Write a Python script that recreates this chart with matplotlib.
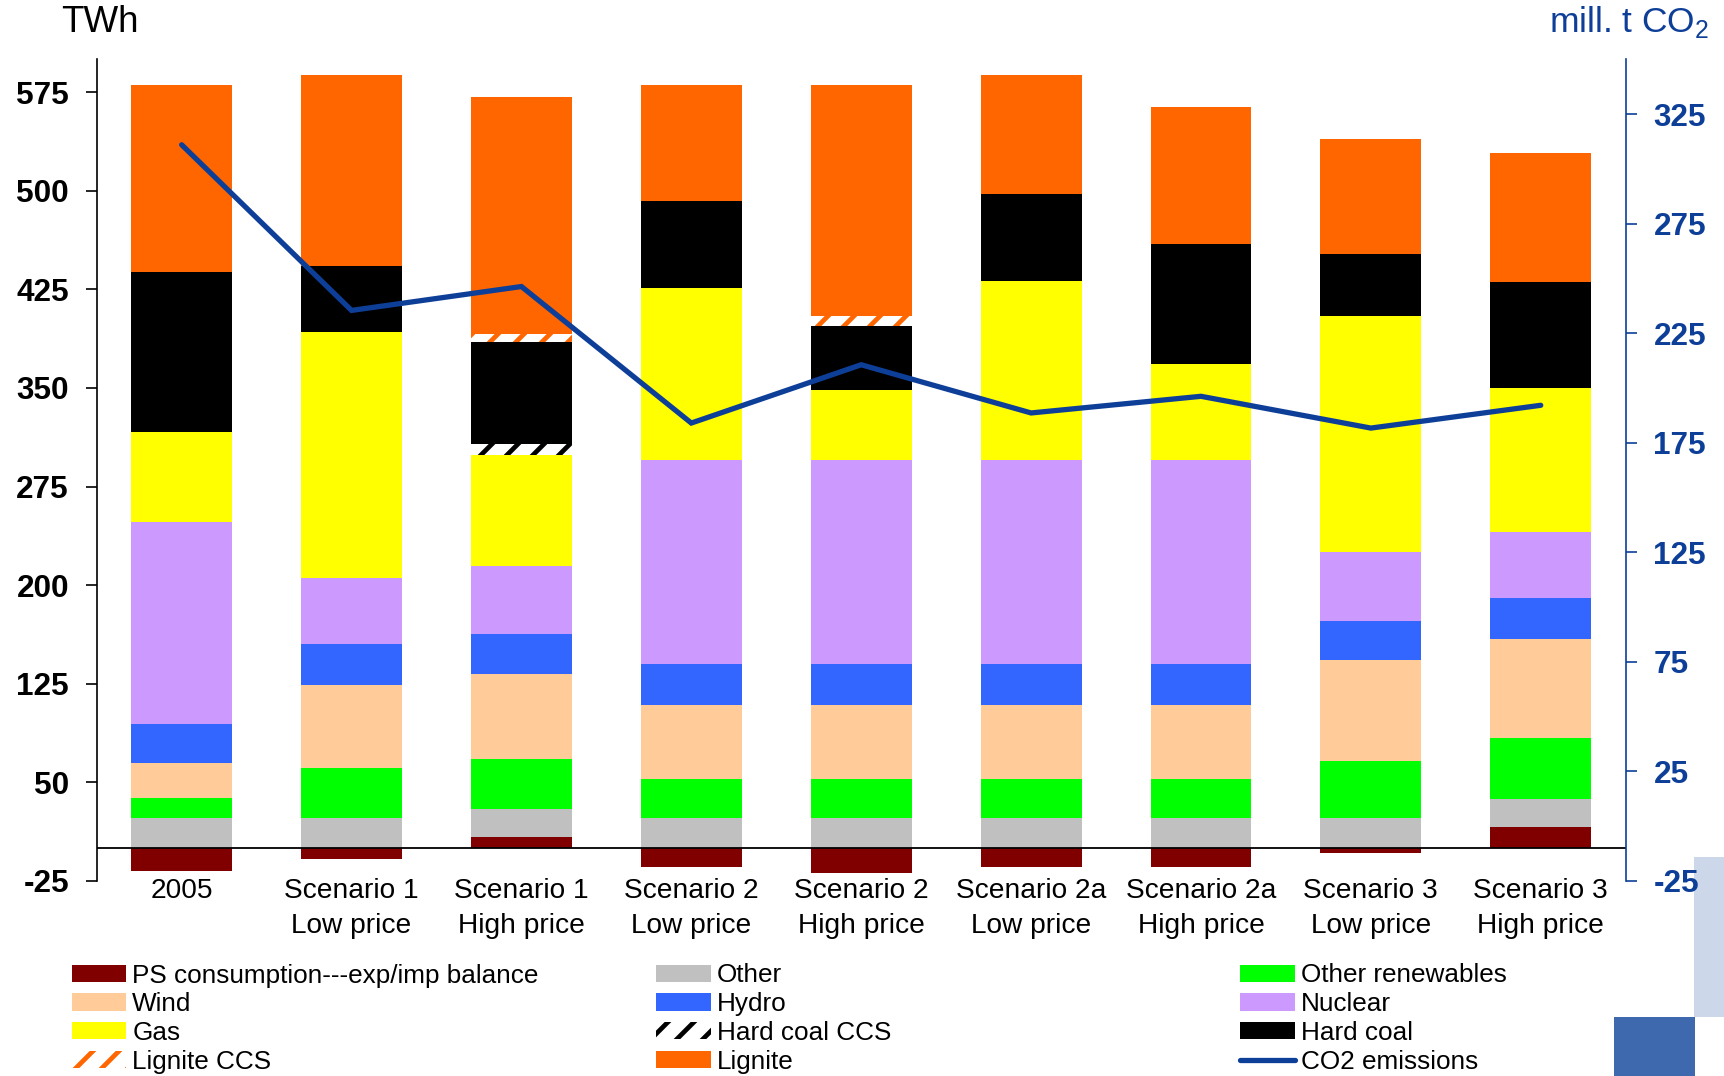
import matplotlib
matplotlib.use("Agg")
import matplotlib.pyplot as plt
import numpy as np
from matplotlib.lines import Line2D
from matplotlib.patches import Rectangle

DPI = 78
K = 100.0 / DPI   # converts point sizes tuned at 100 dpi to this dpi

plt.rcParams['font.family'] = ['Liberation Sans', 'DejaVu Sans']
plt.rcParams['hatch.linewidth'] = 3.4 * K

categories = ["2005", "Scenario 1\nLow price", "Scenario 1\nHigh price",
              "Scenario 2\nLow price", "Scenario 2\nHigh price",
              "Scenario 2a\nLow price", "Scenario 2a\nHigh price",
              "Scenario 3\nLow price", "Scenario 3\nHigh price"]

ps_balance = [-17.3, -7.9, 8.4, -14.2, -18.8, -14.2, -14.2, -3.6, 16.2]
other = [23.0, 23.0, 21.3, 23.0, 23.0, 23.0, 23.0, 23.0, 21.3]
other_ren = [15.3, 38.1, 38.0, 29.5, 29.5, 29.5, 29.5, 43.2, 46.4]
wind = [26.6, 62.9, 64.9, 56.3, 56.3, 56.3, 56.3, 76.8, 75.1]
hydro = [29.7, 31.4, 30.4, 31.4, 31.4, 31.4, 31.4, 29.7, 31.4]
nuclear = [153.6, 50.2, 51.7, 155.2, 155.2, 155.2, 155.2, 52.7, 50.2]
gas = [68.5, 187.2, 84.3, 130.6, 53.0, 135.9, 72.8, 179.3, 109.6]
hard_coal_ccs = [0, 0, 8.3, 0, 0, 0, 0, 0, 0]
hard_coal = [121.7, 49.9, 77.6, 66.2, 48.7, 66.2, 91.5, 47.2, 80.6]
lignite_ccs = [0, 0, 6.1, 0, 7.6, 0, 0, 0, 0]
lignite = [142.0, 145.3, 180.5, 88.2, 175.7, 90.5, 104.0, 87.4, 97.9]
co2 = [311.0, 235.4, 246.3, 184.0, 210.6, 188.6, 196.2, 181.7, 192.1]

left_ticks = [-25, 50, 125, 200, 275, 350, 425, 500, 575]
right_ticks = [-25, 25, 75, 125, 175, 225, 275, 325]

BLUE = "#0E3F98"

fig = plt.figure(figsize=(1724 / DPI, 1076 / DPI), dpi=DPI)
ax = fig.add_axes([0.05609, 0.18123, 0.88689, 0.76366])

x = np.arange(len(categories))
w = 0.594

ps = np.array(ps_balance, dtype=float)
h_ps = ax.bar(x, ps, w, color="#800000", linewidth=0, zorder=2)
bottom = np.where(ps > 0, ps, 0.0)

stack = [
    ("Other", other, dict(color="#C0C0C0")),
    ("Other renewables", other_ren, dict(color="#00FF00")),
    ("Wind", wind, dict(color="#FFCC99")),
    ("Hydro", hydro, dict(color="#3366FF")),
    ("Nuclear", nuclear, dict(color="#CC99FF")),
    ("Gas", gas, dict(color="#FFFF00")),
    ("Hard coal CCS", hard_coal_ccs, dict(facecolor="white", edgecolor="black", hatch="/")),
    ("Hard coal", hard_coal, dict(color="#000000")),
    ("Lignite CCS", lignite_ccs, dict(facecolor="white", edgecolor="#FF6600", hatch="/")),
    ("Lignite", lignite, dict(color="#FF6600")),
]
handles = {"PS consumption---exp/imp balance": h_ps}
for name, vals, style in stack:
    vals = np.array(vals, dtype=float)
    h = ax.bar(x, vals, w, bottom=bottom, linewidth=0, zorder=2, **style)
    handles[name] = h
    bottom = bottom + vals

ax.axhline(0, color="black", linewidth=1.3 * K, zorder=3)
ax.set_xlim(-0.5, 8.5)
ax.set_ylim(-25, 600)
ax.set_yticks(left_ticks)
ax.set_yticklabels([str(t) for t in left_ticks], fontsize=22.7 * K, fontweight="bold")
ax.tick_params(axis="y", direction="out", length=8 * K, width=1.2 * K, pad=12 * K,
               colors="black")
ax.set_xticks(x)
ax.set_xticklabels(categories, fontsize=20.3 * K, linespacing=1.45)
ax.tick_params(axis="x", length=0, pad=-2.3 * K)
for s in ["top", "right", "bottom"]:
    ax.spines[s].set_visible(False)
ax.spines["left"].set_linewidth(1.2 * K)

ax2 = ax.twinx()
ax2.set_ylim(-25, 350)
line, = ax2.plot(x, co2, color=BLUE, linewidth=3.8 * K, solid_capstyle="round",
                 solid_joinstyle="miter", zorder=5)
ax2.set_yticks(right_ticks)
ax2.set_yticklabels([str(t) for t in right_ticks], fontsize=22.7 * K, fontweight="bold",
                    color=BLUE)
ax2.tick_params(axis="y", direction="out", length=8 * K, width=1.2 * K, pad=12 * K,
                colors=BLUE)
for s in ["top", "left", "bottom"]:
    ax2.spines[s].set_visible(False)
ax2.spines["right"].set_color(BLUE)
ax2.spines["right"].set_linewidth(1.2 * K)

fig.text(99.5 / 1724, 1 - 22 / 1076, "TWh", ha="center", va="center", fontsize=26.5 * K)
fig.text(1549 / 1724, 1 - 22 / 1076, r"mill. t CO$_\mathregular{2}$", ha="left",
         va="center", fontsize=25.5 * K, color=BLUE)

handles["CO2 emissions"] = Line2D([0], [0], color=BLUE, linewidth=3.8 * K,
                                  solid_capstyle="round")

cols = [
    ["PS consumption---exp/imp balance", "Wind", "Gas", "Lignite CCS"],
    ["Other", "Hydro", "Hard coal CCS", "Lignite"],
    ["Other renewables", "Nuclear", "Hard coal", "CO2 emissions"],
]
col_x = [71.5, 656.4, 1240.2]
for names, cx in zip(cols, col_x):
    leg = fig.legend([handles[n] for n in names], names, loc="upper left",
                     bbox_to_anchor=(cx / 1724, 1 - 963.5 / 1076), frameon=False,
                     fontsize=18.8 * K, borderpad=0, borderaxespad=0, labelspacing=0.18,
                     handlelength=2.1, handleheight=0.65, handletextpad=0.23)

# slide decorations at the lower right
fig.patches.append(Rectangle((1694 / 1724, 1 - 1017 / 1076), 30 / 1724, 160 / 1076,
                             transform=fig.transFigure, facecolor="#CCD8EA",
                             edgecolor="none", zorder=-1))
fig.patches.append(Rectangle((1614 / 1724, 0), 81 / 1724, 59 / 1076,
                             transform=fig.transFigure, facecolor="#3F69AE",
                             edgecolor="none", zorder=-1))

fig.savefig("out.png", dpi=DPI)
